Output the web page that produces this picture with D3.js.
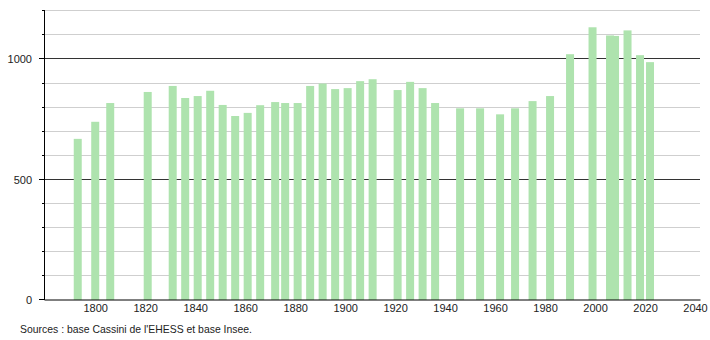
<!DOCTYPE html>
<html>
<head>
<meta charset="utf-8">
<script src="https://cdn.jsdelivr.net/npm/d3@7"></script>
<style>
  body { margin: 0; background: #fff; }
  text { font-family: "Liberation Sans", Arial, sans-serif; fill: #222; }
</style>
</head>
<body>
<div id="chart"></div>
<script>
// census years and population
const years = [1793, 1800, 1806, 1821, 1831, 1836, 1841, 1846, 1851, 1856,
  1861, 1866, 1872, 1876, 1881, 1886, 1891, 1896, 1901, 1906, 1911,
  1921, 1926, 1931, 1936, 1946, 1954, 1962, 1968, 1975, 1982, 1990,
  1999, 2006, 2008, 2013, 2018, 2022];
const population = [670, 741, 819, 865, 890, 840, 848, 870, 811, 765,
  778, 810, 823, 819, 819, 890, 900, 877, 881, 910, 918,
  873, 907, 881, 819, 797, 797, 772, 797, 827, 848, 1022,
  1134, 1100, 1098, 1121, 1018, 989];
const xTicks = [1800, 1820, 1840, 1860, 1880, 1900, 1920, 1940, 1960, 1980, 2000, 2020, 2040];
const yMajor = [0, 500, 1000];
const yGrid = d3.range(100, 1201, 100);
const source = "Sources : base Cassini de l'EHESS et base Insee.";

const W = 710, H = 340;
const svg = d3.select("#chart").append("svg")
    .attr("width", W)
    .attr("height", H);

const x = d3.scaleLinear().domain([1779.5, 2042]).range([44, 700]);
const y = d3.scaleLinear().domain([0, 1200]).range([300, 11.4]);
const barW = 8;

// grid lines (light), 500 and 1000 dark
svg.append("g").selectAll("line")
    .data(yGrid)
    .join("line")
    .attr("x1", 44).attr("x2", 700)
    .attr("y1", d => Math.round(y(d)) - 0.5)
    .attr("y2", d => Math.round(y(d)) - 0.5)
    .attr("stroke", d => d % 500 === 0 ? "#333" : "#cfcfcf")
    .attr("stroke-width", 1);

// bars
svg.append("g").selectAll("rect")
    .data(years.map((yr, i) => ({ yr, v: population[i] })))
    .join("rect")
    .attr("x", d => x(d.yr) - barW / 2)
    .attr("y", d => y(d.v))
    .attr("width", barW)
    .attr("height", d => y(0) - y(d.v))
    .attr("fill", "#aee3ae");

// y axis: major ticks longer than minor ones
svg.append("line")
    .attr("x1", 44.5).attr("x2", 44.5)
    .attr("y1", 10).attr("y2", 300)
    .attr("stroke", "#000");
svg.append("g").selectAll("line")
    .data(yGrid.concat([0]))
    .join("line")
    .attr("x1", d => yMajor.includes(d) ? 39 : 42)
    .attr("x2", 44)
    .attr("y1", d => Math.round(y(d)) - 0.5)
    .attr("y2", d => Math.round(y(d)) - 0.5)
    .attr("stroke", "#000");
svg.append("g").selectAll("text")
    .data(yMajor)
    .join("text")
    .attr("x", 32)
    .attr("y", d => y(d))
    .attr("dy", "0.35em")
    .attr("text-anchor", "end")
    .style("font-size", "11px")
    .text(d => d);

// x axis
const xAxis = svg.append("g")
    .attr("transform", "translate(0,299.5)")
    .call(d3.axisBottom(x)
        .tickValues(xTicks)
        .tickSize(0)
        .tickPadding(5)
        .tickFormat(d3.format("d")));
xAxis.select(".domain").attr("stroke", "#000");
xAxis.selectAll(".tick text")
    .style("font-size", "11px")
    .style("font-family", "'Liberation Sans', Arial, sans-serif")
    .attr("fill", "#222");

// source note
svg.append("text")
    .attr("x", 20)
    .attr("y", 333)
    .style("font-size", "11px")
    .attr("textLength", 232)
    .attr("lengthAdjust", "spacingAndGlyphs")
    .text(source);
</script>
</body>
</html>
